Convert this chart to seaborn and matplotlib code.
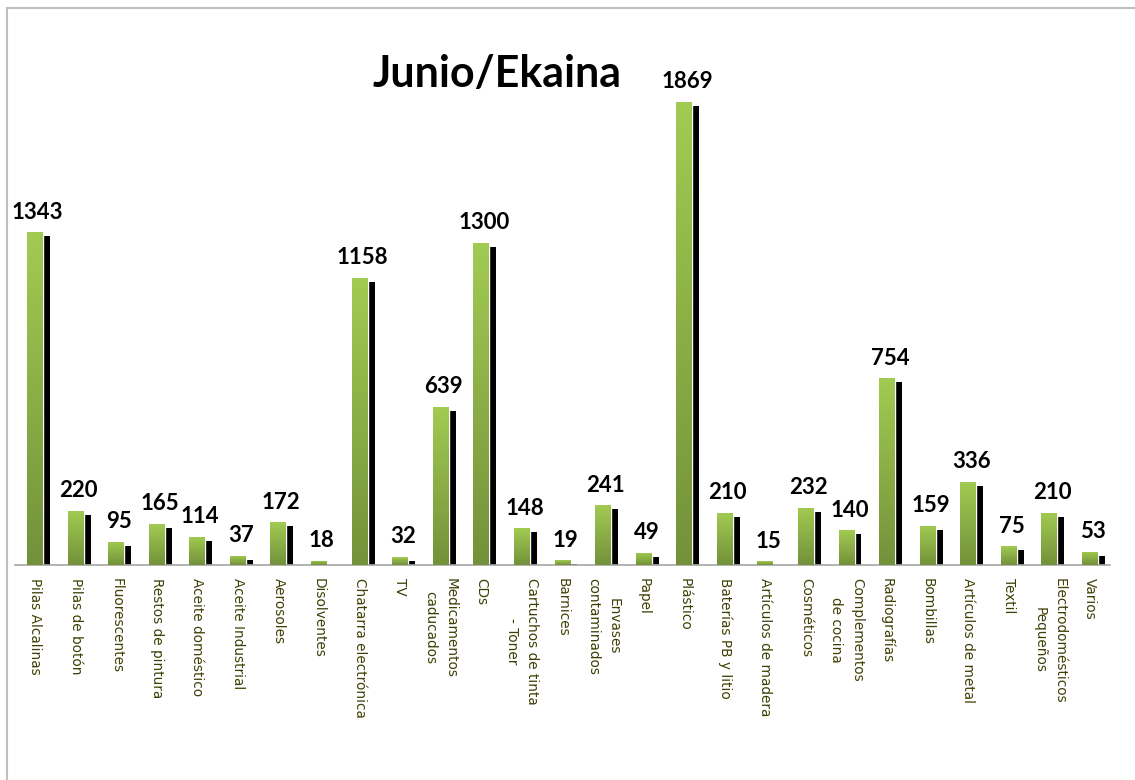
import numpy as np
import pandas as pd
import matplotlib
matplotlib.use('Agg')
import matplotlib.pyplot as plt
import matplotlib.patheffects as pe
from matplotlib.lines import Line2D
import seaborn as sns

# Datos (kg recogidos en junio)
categorias = [
    'Pilas Alcalinas', 'Pilas de botón', 'Fluorescentes', 'Restos de pintura',
    'Aceite doméstico', 'Aceite Industrial', 'Aerosoles', 'Disolventes',
    'Chatarra electrónica', 'TV', 'Medicamentos\ncaducados', 'CDs',
    'Cartuchos de tinta\n- Toner', 'Barnices', 'Envases\ncontaminados', 'Papel',
    'Plástico', 'Baterías PB y litio', 'Artículos de madera', 'Cosméticos',
    'Complementos\nde cocina', 'Radiografías', 'Bombillas', 'Artículos de metal',
    'Textil', 'Electrodomésticos\nPequeños', 'Varios',
]
valores = [1343, 220, 95, 165, 114, 37, 172, 18, 1158, 32, 639, 1300, 148, 19,
           241, 49, 1869, 210, 15, 232, 140, 754, 159, 336, 75, 210, 53]

df = pd.DataFrame({'Categoria': categorias, 'Kg': valores})

sns.set_style('white')
plt.rcParams['font.family'] = ['DejaVu Sans']

fig = plt.figure(figsize=(11.35, 7.8), dpi=100)
ax = fig.add_axes([0.01295, 0.2756, 0.9653, 0.6351])

sns.barplot(data=df, x='Categoria', y='Kg', color='#8db446', saturation=1,
            width=0.394, errorbar=None, ax=ax)

# sombra negra + degradado verde en cada barra (claro arriba, oscuro abajo)
sombra = [pe.SimplePatchShadow(offset=(5, -2.9), shadow_rgbFace='black', alpha=1.0),
          pe.Normal()]
grad = np.linspace(0, 1, 256).reshape(-1, 1)
cmap = matplotlib.colors.LinearSegmentedColormap.from_list('verde', ['#a2cb52', '#73913a'])
for p in ax.patches:
    p.set_path_effects(sombra)
    x0, y0 = p.get_x(), p.get_y()
    w, h = p.get_width(), p.get_height()
    im = ax.imshow(grad, cmap=cmap, aspect='auto', extent=(x0, x0 + w, y0, y0 + h),
                   zorder=3, interpolation='bilinear')
    im.set_clip_path(p)
    ax.annotate(f'{int(h)}', (x0 + w / 2, h), xytext=(2, 7), textcoords='offset points',
                ha='center', va='bottom', fontsize=16, fontweight='bold',
                family='Lato', color='black')

ax.set_ylim(0, 2000)
ax.set_xlim(-0.5, len(categorias) - 0.5)
ax.set_xlabel('')
ax.set_ylabel('')
ax.set_yticks([])
ax.tick_params(axis='x', length=0, pad=9, labelsize=9.8, labelcolor='#3f3f05')
plt.setp(ax.get_xticklabels(), rotation=270, ha='center', va='top', linespacing=1.6)

for s in ['top', 'left', 'right']:
    ax.spines[s].set_visible(False)
ax.spines['bottom'].set_color('#a6a6a6')
ax.spines['bottom'].set_linewidth(1.2)

fig.text(0.438, 0.905, 'Junio/Ekaina', ha='center', va='center', fontsize=31,
         fontweight='bold', family='Lato', color='black')

# marco del gráfico
fig.add_artist(Line2D([7 / 1135, 7 / 1135], [0, 1 - 8 / 780], color='#bfbfbf', lw=1.5))
fig.add_artist(Line2D([7 / 1135, 1], [1 - 8 / 780, 1 - 8 / 780], color='#bfbfbf', lw=1.5))

fig.savefig('out.png', dpi=100)
